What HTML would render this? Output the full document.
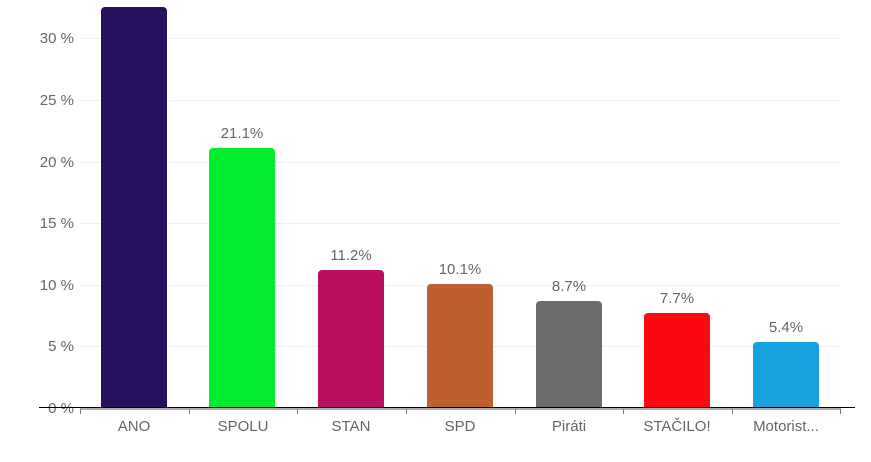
<!DOCTYPE html>
<html><head><meta charset="utf-8"><style>
html,body{margin:0;padding:0;background:#fff;width:871px;height:462px;overflow:hidden}
svg text{font-family:"Liberation Sans",sans-serif;}
</style></head><body>
<svg width="871" height="462" xmlns="http://www.w3.org/2000/svg">
<g stroke="#efefef" stroke-width="1">
<line x1="80" y1="38.5" x2="840" y2="38.5"/>
<line x1="80" y1="100.5" x2="840" y2="100.5"/>
<line x1="80" y1="162.5" x2="840" y2="162.5"/>
<line x1="80" y1="223.5" x2="840" y2="223.5"/>
<line x1="80" y1="285.5" x2="840" y2="285.5"/>
<line x1="80" y1="346.5" x2="840" y2="346.5"/>
</g>
<g font-size="15" fill="#666" text-anchor="end">
<text x="74" y="43">30 %</text>
<text x="74" y="105">25 %</text>
<text x="74" y="167">20 %</text>
<text x="74" y="228">15 %</text>
<text x="74" y="290">10 %</text>
<text x="74" y="351">5 %</text>
<text x="74" y="413">0 %</text>
</g>
<g>
<path d="M101,408V11a4,4 0 0 1 4,-4h58a4,4 0 0 1 4,4V408z" fill="#271060"/>
<path d="M209,408V152a4,4 0 0 1 4,-4h58a4,4 0 0 1 4,4V408z" fill="#00ec2d"/>
<path d="M318,408V274a4,4 0 0 1 4,-4h58a4,4 0 0 1 4,4V408z" fill="#b80f5e"/>
<path d="M427,408V288a4,4 0 0 1 4,-4h58a4,4 0 0 1 4,4V408z" fill="#be5f30"/>
<path d="M536,408V305a4,4 0 0 1 4,-4h58a4,4 0 0 1 4,4V408z" fill="#6c6c6c"/>
<path d="M644,408V317a4,4 0 0 1 4,-4h58a4,4 0 0 1 4,4V408z" fill="#fb0811"/>
<path d="M753,408V346a4,4 0 0 1 4,-4h58a4,4 0 0 1 4,4V408z" fill="#17a1e1"/>
</g>
<g font-size="15" fill="#666" text-anchor="middle">
<text x="242" y="138">21.1%</text>
<text x="351" y="260">11.2%</text>
<text x="460" y="274">10.1%</text>
<text x="569" y="291">8.7%</text>
<text x="677" y="303">7.7%</text>
<text x="786" y="332">5.4%</text>
</g>
<line x1="39" y1="407.5" x2="855" y2="407.5" stroke="#000" stroke-width="1"/>
<line x1="80" y1="409" x2="841" y2="409" stroke="#7a7a85" stroke-width="1.2"/>
<g stroke="#7a7a85" stroke-width="1">
<line x1="80.5" y1="409" x2="80.5" y2="414"/>
<line x1="189.5" y1="409" x2="189.5" y2="414"/>
<line x1="297.5" y1="409" x2="297.5" y2="414"/>
<line x1="406.5" y1="409" x2="406.5" y2="414"/>
<line x1="515.5" y1="409" x2="515.5" y2="414"/>
<line x1="623.5" y1="409" x2="623.5" y2="414"/>
<line x1="732.5" y1="409" x2="732.5" y2="414"/>
<line x1="840.5" y1="409" x2="840.5" y2="414"/>
</g>
<g font-size="15" fill="#666" text-anchor="middle">
<text x="134" y="431">ANO</text>
<text x="243" y="431">SPOLU</text>
<text x="351" y="431">STAN</text>
<text x="460" y="431">SPD</text>
<text x="569" y="431">Piráti</text>
<text x="677" y="431">STAČILO!</text>
<text x="786" y="431">Motorist...</text>
</g>
</svg>
</body></html>
